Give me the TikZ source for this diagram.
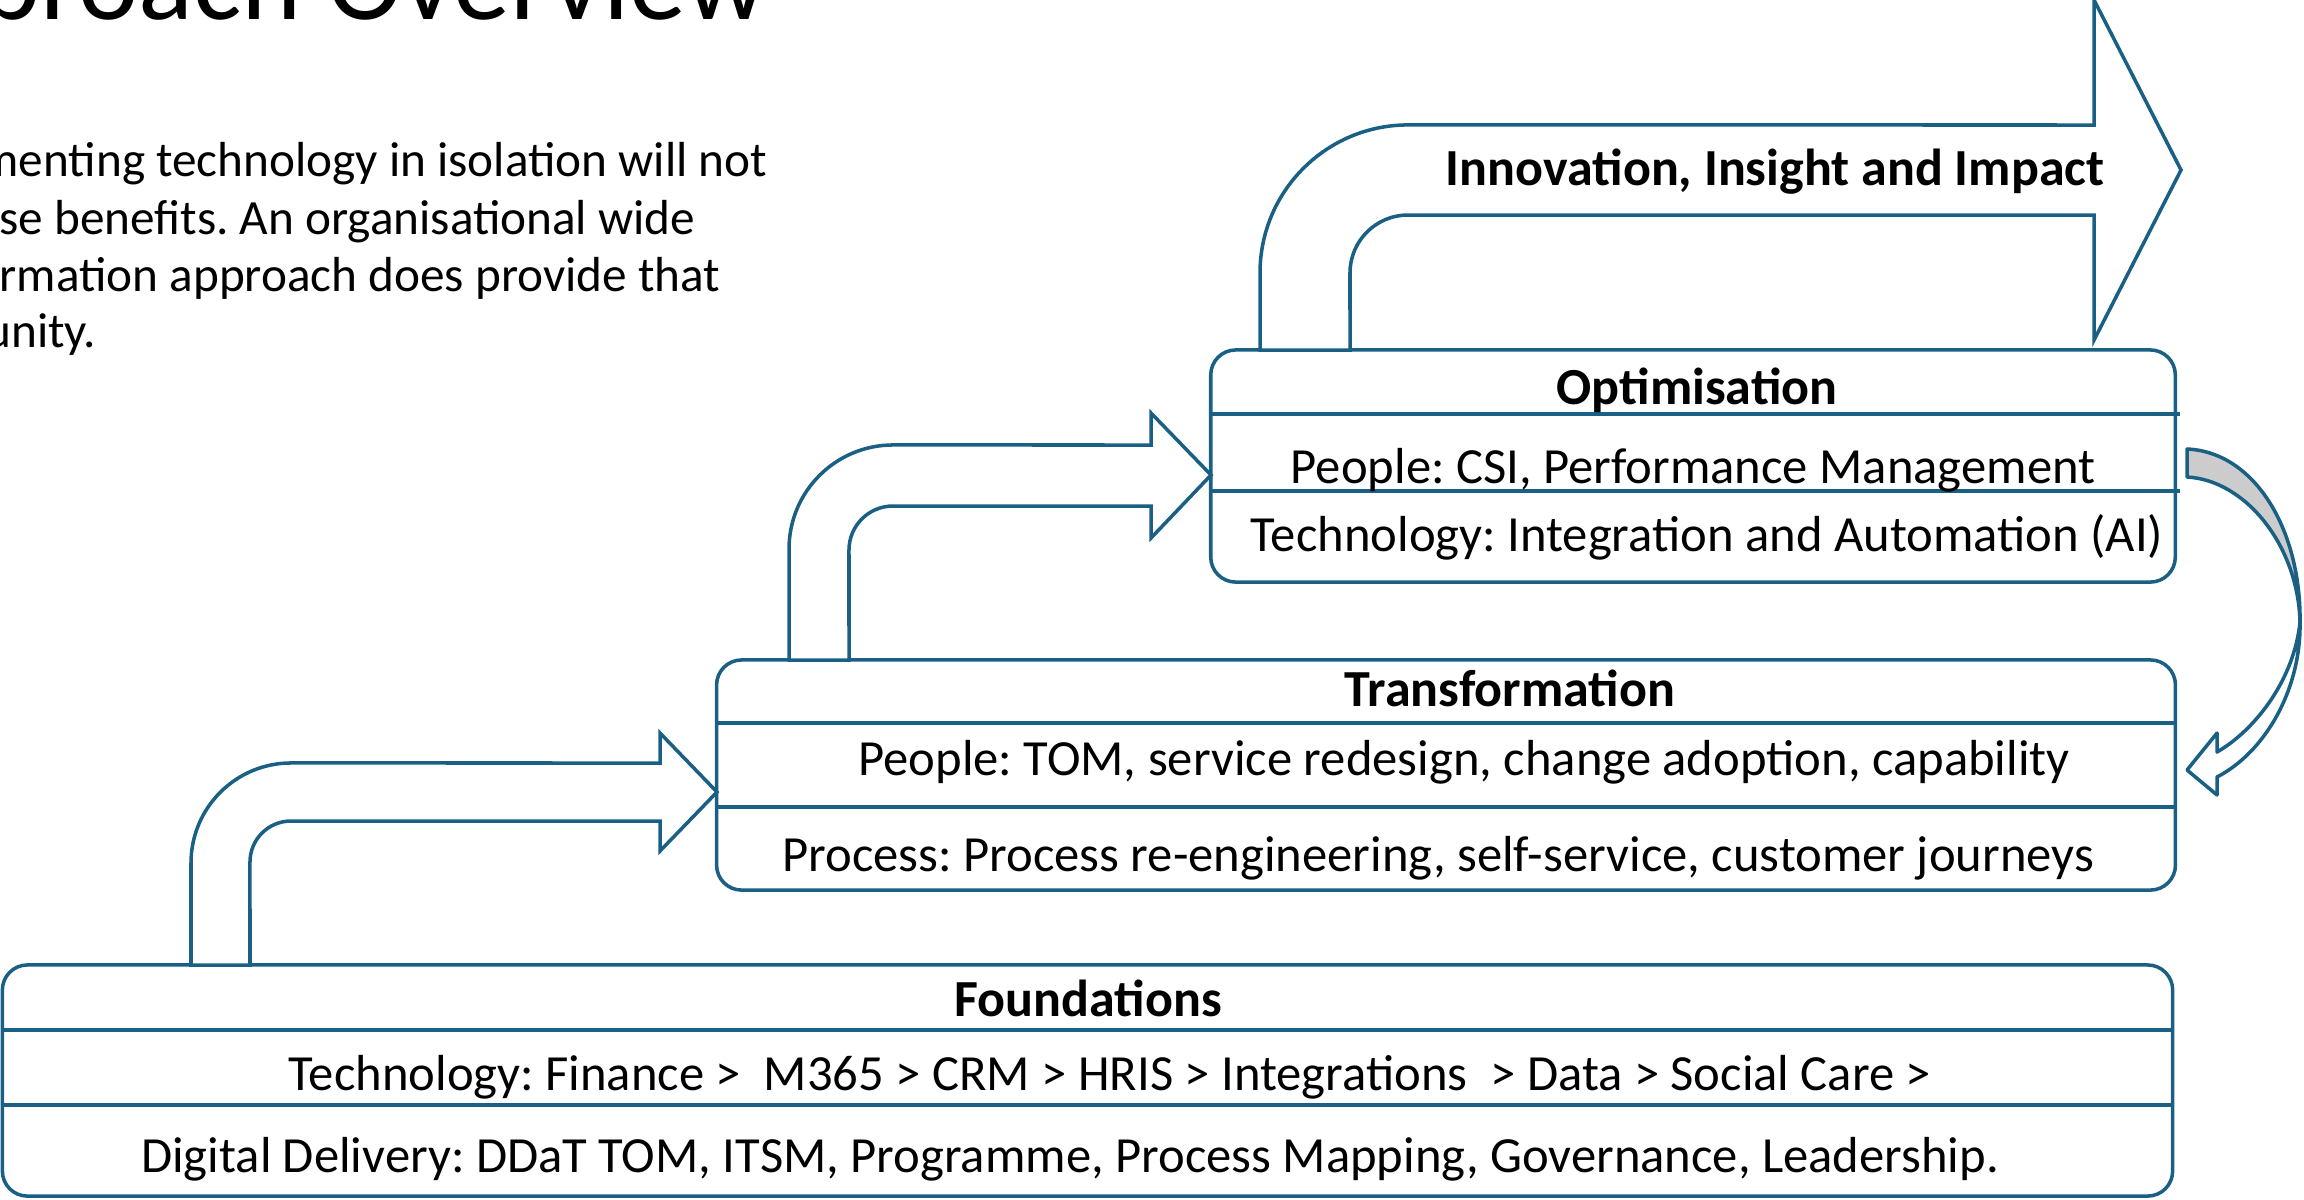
\documentclass[tikz,border=0pt]{standalone}
\usepackage{fontspec}
\setmainfont{Carlito}
\usetikzlibrary{positioning,calc}

\definecolor{stageblue}{HTML}{1A6084}
\definecolor{backshade}{HTML}{CCCCCC}

\begin{document}
\frenchspacing
\begin{tikzpicture}[
  x=0.01cm, y=-0.01cm,
  font=\fontsize{14.4}{17}\selectfont,
  stage/.style={draw=stageblue, line width=1pt, rounded corners=0.25cm, fill=white, inner sep=0pt},
  rule/.style={draw=stageblue, line width=1pt},
  bent/.style={draw=stageblue, line width=1pt, fill=white},
  head/.style={font=\fontsize{14.8}{17}\selectfont\bfseries, anchor=base, inner sep=0pt},
  item/.style={anchor=base, inner sep=0pt},
  para/.style={anchor=base east, inner sep=0pt, font=\fontsize{14}{17}\selectfont},
]
\useasboundingbox (0,0) rectangle (2304,1199);
\clip (0,0) rectangle (2304,1199);

% heading and intro text
\node[anchor=base east, inner sep=0pt, font=\fontsize{32.5}{38}\selectfont] (title) at (768,19) {proach Overview};
\node[para] (para1) at (768,176) {menting technology in isolation will not};
\node[para] (para2) at (696,234) {se benefits. An organisational wide};
\node[para, anchor=base west] (para3) at (-1,291) {rmation approach does provide that};
\node[para] (para4) at (97,347) {unity.};

% the three stages
\node[stage, minimum width=21.69cm, minimum height=2.31cm] (found) at (1087.5,1080.5) {};
\node[stage, minimum width=14.58cm, minimum height=2.30cm] (trans) at (1446,775) {};
\node[stage, minimum width=9.64cm, minimum height=2.32cm] (optim) at (1693,466) {};

\draw[rule] (3,1030) -- (2172,1030);
\draw[rule] (3,1105) -- (2172,1105);
\draw[rule] (717,723) -- (2175,723);
\draw[rule] (717,807) -- (2175,807);
\draw[rule] (1211,414) -- (2180,414);
\draw[rule] (1211,491) -- (2180,491);

\node[head] (found-name) at (1088,1016) {Foundations};
\node[item] (found-tech) at (1110,1090) {Technology: Finance >\ \ M365 > CRM > HRIS > Integrations\ \ > Data > Social Care >};
\node[item] (found-deliv) at (1070,1172) {Digital Delivery: DDaT TOM, ITSM, Programme, Process Mapping, Governance, Leadership.};

\node[head] (trans-name) at (1510,706) {Transformation};
\node[item] (trans-people) at (1464,775) {People: TOM, service redesign, change adoption, capability};
\node[item] (trans-process) at (1438,871) {Process: Process re-engineering, self-service, customer journeys};

\node[head] (optim-name) at (1697,404) {Optimisation};
\node[item] (optim-people) at (1693,483) {People: CSI, Performance Management};
\node[item] (optim-tech) at (1707,551) {Technology: Integration and Automation (AI)};

% bent arrows stepping up from one stage to the next
\draw[bent] (191,965) -- (191,863) arc[start angle=180, end angle=90, radius=1cm]
  -- (660,763) -- (660,733) -- (717,792) -- (660,851) -- (660,821) -- (291,821)
  arc[start angle=90, end angle=180, radius=0.41cm] -- (250,965) -- cycle;
\draw[bent] (789,660) -- (789,549) arc[start angle=180, end angle=90, radius=1.04cm]
  -- (1151,445) -- (1151,413) -- (1211,475) -- (1151,538) -- (1151,506) -- (893,506)
  arc[start angle=90, end angle=180, radius=0.44cm] -- (849,660) -- cycle;
\draw[bent] (1260,350) -- (1260,273) arc[start angle=180, end angle=90, radius=1.48cm]
  -- (2094,125) -- (2094,0) -- (2181,170) -- (2094,340) -- (2094,215) -- (1408,215)
  arc[start angle=90, end angle=180, radius=0.58cm] -- (1350,350) -- cycle;
\node[head] (impact) at (1775,185) {Innovation, Insight and Impact};

% feedback arrow: optimisation back into transformation
\draw[bent, fill=backshade, line join=round] (2187,449) .. controls (2255,452) and (2301,530) .. (2300,622)
  .. controls (2298,545) and (2245,480) .. (2187,477) -- cycle;
\draw[bent, line join=round] (2300,622) .. controls (2301,690) and (2265,752) .. (2217,777)
  -- (2217,795) -- (2187,770) -- (2217,733) -- (2217,752)
  .. controls (2255,730) and (2294,680) .. (2300,622) -- cycle;
\end{tikzpicture}
\end{document}
